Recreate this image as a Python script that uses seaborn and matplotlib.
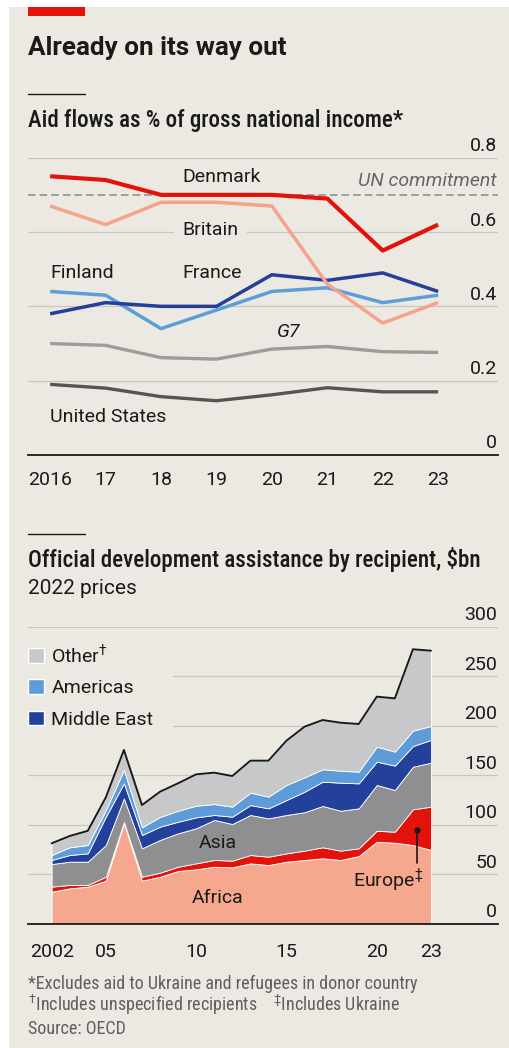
import numpy as np
import pandas as pd
import matplotlib
matplotlib.use("Agg")
import matplotlib.pyplot as plt
import matplotlib.transforms as mtransforms
from matplotlib.patches import Patch, Rectangle
from matplotlib.lines import Line2D
import seaborn as sns

# ---------------- data: aid as % of GNI ----------------
gni_years = [2016, 2017, 2018, 2019, 2020, 2021, 2022, 2023]
gni_year_labels = ["2016", "17", "18", "19", "20", "21", "22", "23"]
denmark = [0.75, 0.74, 0.70, 0.70, 0.70, 0.69, 0.55, 0.62]
britain = [0.67, 0.62, 0.68, 0.68, 0.67, 0.46, 0.355, 0.41]
finland = [0.44, 0.43, 0.34, 0.39, 0.44, 0.45, 0.41, 0.43]
france = [0.38, 0.41, 0.40, 0.40, 0.485, 0.47, 0.49, 0.44]
g7 = [0.30, 0.295, 0.262, 0.258, 0.285, 0.292, 0.278, 0.276]
united_states = [0.19, 0.18, 0.157, 0.146, 0.162, 0.181, 0.17, 0.17]
un_commitment = 0.7
gni_ticks = [0, 0.2, 0.4, 0.6, 0.8]
gni_tick_labels = ["0", "0.2", "0.4", "0.6", "0.8"]

# ---------------- data: ODA by recipient, $bn ----------------
oda_years = list(range(2002, 2024))
africa = [32.6, 36, 37.7, 43.7, 102, 43.7, 47.7, 53.5, 55.2, 57.8, 57.2,
          61.2, 59.5, 62.9, 64.6, 66.3, 64.6, 68.6, 83, 82, 79.7, 74.7]
europe = [5.1, 3.4, 1.7, 4.0, 1.0, 4.0, 4.1, 4.3, 6.0, 6.8, 6.7,
          8.4, 8.4, 8.4, 9.4, 11.1, 9.4, 7.8, 11.1, 11.1, 36.0, 43.7]
asia = [22.8, 23.5, 23.5, 32.0, 23.8, 28.7, 33.0, 33.7, 35.4, 40.4, 37.0,
        40.4, 38.7, 38.7, 38.8, 41.7, 40.3, 40.3, 46.2, 42.1, 43.0, 44.4]
middle_east = [4.1, 6.7, 8.4, 28.6, 15.2, 13.4, 13.4, 11.7, 11.0, 5.0, 7.4,
               10.0, 10.1, 15.1, 20.7, 24.5, 28.3, 25.2, 23.5, 24.6, 20.9, 22.9]
americas = [5.0, 7.8, 8.4, 6.7, 13.4, 7.8, 9.8, 11.1, 11.8, 11.0, 10.1,
            12.5, 11.8, 15.2, 14.5, 12.5, 12.1, 11.8, 15.1, 14.1, 15.5, 14.1]
other = [11.8, 11.4, 14.3, 12.8, 20.2, 22.4, 25.5, 27.7, 31.6, 31.7, 30.9,
         32.3, 36.3, 44.7, 51.1, 49.7, 48.4, 48.1, 50.5, 53.8, 82.1, 76.0]
oda_ticks = [0, 50, 100, 150, 200, 250, 300]
oda_tick_labels = ["0", "50", "100", "150", "200", "250", "300"]
oda_xlabels = {2002: "2002", 2005: "05", 2010: "10", 2015: "15", 2020: "20", 2023: "23"}

# ---------------- style ----------------
BG = "#ECE9E2"
GRID = "#C9C6BF"
TXT = "#1A1A1A"
FOOT = "#5F5F5F"
RED = "#E3120B"
COND = ["Roboto Condensed", "Roboto", "DejaVu Sans"]

sns.set_theme(style="white")
plt.rcParams["font.family"] = ["Roboto", "DejaVu Sans"]
plt.rcParams["mathtext.fontset"] = "custom"
plt.rcParams["mathtext.rm"] = "Roboto"
plt.rcParams["mathtext.it"] = "Roboto:italic"
plt.rcParams["text.color"] = TXT

W, H = 509, 1048
fig = plt.figure(figsize=(W / 100, H / 100), dpi=100)
fig.patch.set_facecolor("white")


def fx(x):
    return x / W


def fy(y):
    return 1 - y / H


fig.add_artist(Rectangle((fx(9), 0), 1 - fx(9), fy(7), transform=fig.transFigure,
                         facecolor=BG, edgecolor="none", zorder=0))
fig.add_artist(Rectangle((fx(28), fy(16)), fx(57), 9 / H, transform=fig.transFigure,
                         facecolor=RED, edgecolor="none", zorder=1))

# headers
fig.text(fx(28), fy(55.5), "Already on its way out", fontsize=18.7, fontweight="bold",
         ha="left", va="baseline")
fig.add_artist(Line2D([fx(28), fx(85)], [fy(94), fy(94)], transform=fig.transFigure,
                      color=TXT, lw=1.0))
fig.text(fx(28), fy(127.5), "Aid flows as % of gross national income*", fontsize=16.6,
         fontweight="medium", family=COND, ha="left", va="baseline")
fig.add_artist(Line2D([fx(28), fx(85)], [fy(534), fy(534)], transform=fig.transFigure,
                      color=TXT, lw=1.0))
fig.text(fx(28), fy(566.5), "Official development assistance by recipient, $bn",
         fontsize=16.6, fontweight="medium", family=COND, ha="left", va="baseline")
fig.text(fx(28), fy(594), "2022 prices", fontsize=15, ha="left", va="baseline")

# ---------------- top chart ----------------
ax1 = fig.add_axes([fx(28), fy(455), fx(470), (455 - 157.7) / H])
ax1.set_facecolor("none")
ax1.set_xlim(2015.6, 2024.08)
ax1.set_ylim(0, 0.8)
for s in ["top", "left", "right"]:
    ax1.spines[s].set_visible(False)
ax1.spines["bottom"].set_color(TXT)
ax1.spines["bottom"].set_linewidth(1.3)
ax1.set_yticks([])
ax1.set_xticks(gni_years)
ax1.set_xticklabels(gni_year_labels)
ax1.tick_params(axis="x", direction="out", length=7, width=1.2, color=TXT,
                labelsize=14, pad=4.5, labelcolor=TXT)

for v in gni_ticks[1:]:
    ax1.axhline(v, color=GRID, lw=0.9, zorder=1)
ax1.axhline(un_commitment, color="#8A8A8A", lw=1.1, dashes=(5, 2.6), zorder=2)

lab_tr1 = mtransforms.offset_copy(
    mtransforms.blended_transform_factory(ax1.transAxes, ax1.transData),
    fig=fig, x=-1, y=6.5, units="dots")
for v, lab in zip(gni_ticks, gni_tick_labels):
    ax1.text(1.0, v, lab, transform=lab_tr1, ha="right", va="baseline",
             fontsize=14, color=TXT)

gni_df = pd.DataFrame({"year": gni_years, "Denmark": denmark, "Britain": britain,
                       "Finland": finland, "France": france, "G7": g7,
                       "United States": united_states})
series_style = [
    ("United States", "#555555", 2.4),
    ("G7", "#9C9C9C", 2.4),
    ("Finland", "#5E9ED8", 2.5),
    ("France", "#243F99", 2.5),
    ("Britain", "#F5A48C", 2.5),
    ("Denmark", RED, 3.0),
]
for name, col, lw in series_style:
    sns.lineplot(data=gni_df, x="year", y=name, color=col, lw=lw, ax=ax1,
                 zorder=4, solid_capstyle="butt")
ax1.set_xlabel("")
ax1.set_ylabel("")

ax1.text(2018.38, 0.749, "Denmark", fontsize=14, ha="left", va="center", zorder=5)
ax1.text(0.998, 0.736, "UN commitment", fontsize=14, style="italic", color="#666666",
         ha="right", va="center", transform=mtransforms.blended_transform_factory(
             ax1.transAxes, ax1.transData), zorder=5)
ax1.text(2018.38, 0.606, "Britain", fontsize=14, ha="left", va="center", zorder=3,
         bbox=dict(facecolor=BG, edgecolor="none", pad=6))
ax1.text(2016.0, 0.491, "Finland", fontsize=14, ha="left", va="center", zorder=5)
ax1.text(2018.38, 0.491, "France", fontsize=14, ha="left", va="center", zorder=5)
ax1.text(2020.09, 0.332, "G7", fontsize=14, style="italic", ha="left", va="center", zorder=5)
ax1.text(2016.0, 0.103, "United States", fontsize=14, ha="left", va="center", zorder=5)

# ---------------- bottom chart ----------------
ax2 = fig.add_axes([fx(28), fy(924), fx(470), (924 - 626.7) / H])
ax2.set_facecolor("none")
ax2.set_xlim(2000.69, 2026.71)
ax2.set_ylim(0, 300)
for s in ["top", "left", "right"]:
    ax2.spines[s].set_visible(False)
ax2.spines["bottom"].set_color(TXT)
ax2.spines["bottom"].set_linewidth(1.3)
ax2.set_yticks([])
ax2.set_xticks(oda_years)
ax2.set_xticklabels([oda_xlabels.get(y, "") for y in oda_years])
ax2.tick_params(axis="x", direction="out", length=5, width=1.2, color=TXT,
                labelsize=14, pad=9, labelcolor=TXT)

for v in oda_ticks[1:]:
    xmin = (172.7 - 28) / 470 if v in (200, 250) else 0
    ax2.axhline(v, xmin=xmin, color=GRID, lw=0.9, zorder=1)

lab_tr2 = mtransforms.offset_copy(
    mtransforms.blended_transform_factory(ax2.transAxes, ax2.transData),
    fig=fig, x=-1, y=6.7, units="dots")
for v, lab in zip(oda_ticks, oda_tick_labels):
    ax2.text(1.0, v, lab, transform=lab_tr2, ha="right", va="baseline",
             fontsize=14, color=TXT)

oda_cols = ["#F6A88F", RED, "#8F8F91", "#23419A", "#5D9CD8", "#C7C8CA"]
ax2.stackplot(oda_years, africa, europe, asia, middle_east, americas, other,
              colors=oda_cols, edgecolor="white", linewidth=0.6, zorder=2)
total = np.sum([africa, europe, asia, middle_east, americas, other], axis=0)
sns.lineplot(x=oda_years, y=total, color=TXT, lw=1.4, ax=ax2, zorder=3)
ax2.set_xlabel("")
ax2.set_ylabel("")

ax2.text(2011.2, 81.7, "Asia", fontsize=14, ha="center", va="center", zorder=5)
ax2.text(2011.2, 26.2, "Africa", fontsize=14, ha="center", va="center", zorder=5)
ax2.text(2018.7, 44.4, r"Europe$^{‡}$", fontsize=14, ha="left", va="center", zorder=5)
ax2.plot([2022.2, 2022.2], [61.5, 94.8], color=TXT, lw=1.2, zorder=5)
ax2.plot([2022.2], [94.8], marker="o", ms=3.5, color=TXT, zorder=5)

handles = [Patch(facecolor=oda_cols[5]), Patch(facecolor=oda_cols[4]),
           Patch(facecolor=oda_cols[3])]
ax2.legend(handles, [r"Other$^{†}$", "Americas", "Middle East"], loc="upper left",
           bbox_to_anchor=(fx(28), fy(642)), bbox_transform=fig.transFigure,
           frameon=False, borderpad=0, borderaxespad=0, handlelength=0.8,
           handleheight=0.8, handletextpad=0.4, labelspacing=0.68, fontsize=14)

# footnotes
fig.text(fx(28), fy(989.3), "*Excludes aid to Ukraine and refugees in donor country",
         fontsize=13, family=COND, color=FOOT, ha="left", va="baseline")
fig.text(fx(28), fy(1011), r"$^{†}$Includes unspecified recipients    $^{‡}$Includes Ukraine",
         fontsize=13, family=COND, color=FOOT, ha="left", va="baseline")
fig.text(fx(28), fy(1034.3), "Source: OECD", fontsize=13, family=COND, color=FOOT,
         ha="left", va="baseline")

fig.savefig("out.png", dpi=100, facecolor=fig.get_facecolor())
